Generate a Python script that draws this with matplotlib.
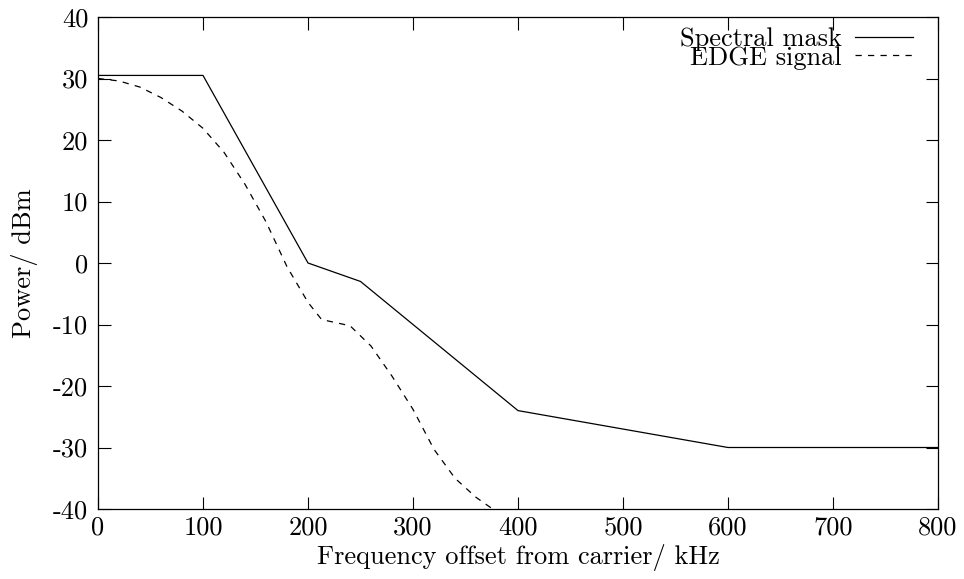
import matplotlib
matplotlib.use("Agg")
import matplotlib.pyplot as plt

# spectral mask (kHz, dBm)
mask_f = [0, 100, 200, 250, 400, 600, 800]
mask_p = [30.5, 30.5, 0, -3, -24, -30, -30]

# EDGE signal spectrum
edge_f = [0, 20, 40, 60, 80, 100, 120, 140, 160, 180, 200, 213, 240,
          260, 280, 300, 320, 340, 360, 380]
edge_p = [30, 29.6, 28.6, 26.9, 24.7, 21.9, 18.0, 12.8, 6.7, -0.6, -6.4,
          -9.2, -10.2, -13.5, -18.4, -23.8, -30.3, -35.0, -38.1, -40.5]

xticks = [0, 100, 200, 300, 400, 500, 600, 700, 800]
yticks = [-40, -30, -20, -10, 0, 10, 20, 30, 40]

plt.rcParams['font.family'] = ['cmr10', 'DejaVu Serif']
plt.rcParams['axes.unicode_minus'] = False
plt.rcParams['font.size'] = 19

fig = plt.figure(figsize=(9.64, 5.79), dpi=100)
ax = fig.add_axes([98 / 964, 70 / 579, 840 / 964, 492 / 579])

ax.plot(mask_f, mask_p, color='black', lw=0.9, label='Spectral mask')
ax.plot(edge_f, edge_p, color='black', lw=0.9, linestyle=(0, (5, 5)),
        label='EDGE signal')

ax.set_xlim(0, 800)
ax.set_ylim(-40, 40)
ax.set_xticks(xticks)
ax.set_xticklabels([str(t) for t in xticks])
ax.set_yticks(yticks)
ax.set_yticklabels([str(t) for t in yticks])
ax.tick_params(direction='in', length=9, width=0.8, top=True, right=True, pad=7)
ax.tick_params(axis='x', pad=5)
for s in ax.spines.values():
    s.set_linewidth(0.9)

ax.set_xlabel('Frequency offset from carrier/ kHz', labelpad=3)
ax.set_ylabel('Power/ dBm', labelpad=11)

ax.legend(loc='upper right', bbox_to_anchor=(1.0, 1.03), frameon=False,
          markerfirst=False, handlelength=2.2, handletextpad=0.5,
          labelspacing=-0.2, borderaxespad=0.55)

fig.savefig('out.png', dpi=100)
